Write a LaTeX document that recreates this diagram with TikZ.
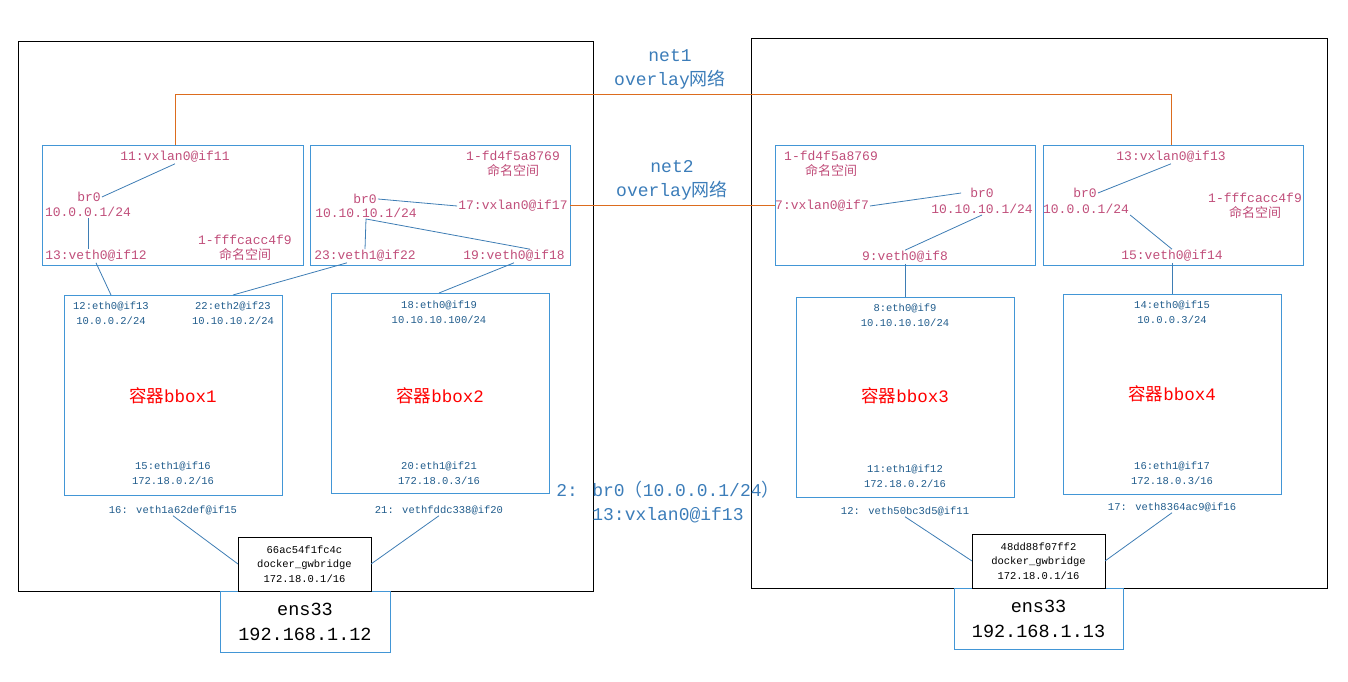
\documentclass[tikz,border=0pt]{standalone}
\usepackage{fontspec}
\setmainfont{Liberation Mono}
\newfontfamily\cjk{Noto Sans CJK SC}
\usetikzlibrary{calc}

\definecolor{nspink}{RGB}{192,78,122}
\definecolor{ifblue}{RGB}{32,92,140}
\definecolor{boxblue}{RGB}{66,150,214}
\definecolor{linkblue}{RGB}{62,125,180}
\definecolor{netorange}{RGB}{220,108,30}
\definecolor{midblue}{RGB}{60,125,185}

\tikzset{
  host/.style={draw=black, line width=0.9pt, inner sep=0pt, outer sep=0pt},
  nsbox/.style={draw=boxblue, line width=0.8pt, inner sep=0pt, outer sep=0pt, minimum width=261, minimum height=120},
  ctbox/.style={draw=boxblue, line width=0.8pt, inner sep=0pt, outer sep=0pt, minimum width=218, minimum height=200},
  gwbox/.style={draw=black, fill=white, line width=0.9pt, inner sep=0pt, outer sep=0pt, align=center,
    minimum width=133, minimum height=54, font=\fontsize{10.5}{14.5}\selectfont},
  ensbox/.style={draw=boxblue, line width=0.8pt, inner sep=0pt, outer sep=0pt, align=center,
    minimum width=170, minimum height=61, font=\fontsize{18.5}{25}\selectfont},
  nstext/.style={text=nspink, inner sep=1pt, align=center, font=\fontsize{13}{15}\selectfont},
  iftext/.style={text=ifblue, inner sep=1pt, align=center, font=\fontsize{10.5}{15.5}\selectfont},
  cttitle/.style={text=red, inner sep=1pt, font=\fontsize{17.5}{20}\selectfont},
  midtext/.style={text=midblue, inner sep=1pt, align=center, font=\fontsize{18}{24}\selectfont},
  link/.style={draw=linkblue, line width=0.8pt},
  vxlink/.style={draw=netorange, line width=1pt},
}

\begin{document}
\begin{tikzpicture}[x=1pt,y=-1pt]
  \useasboundingbox (0,0) rectangle (1348,682);

  % --- Hosts ---
  \node[host, minimum width=575, minimum height=550] (h1) at (305.5,316) {};
  \node[host, minimum width=576, minimum height=550] (h2) at (1039,313) {};

  % --- Namespaces (Host 1) ---
  \node[nsbox] (ns1) at (172.5,205) {};
  \node[nstext] (vx1) at (175,157) {11:vxlan0@if11};
  \node[nstext] (br1) at (89,197) {br0};
  \node[nstext] (ip1) at (88,212) {10.0.0.1/24};
  \node[nstext] (ve1) at (96,256) {13:veth0@if12};
  \node[nstext] (nm1) at (245,248) {1-fffcacc4f9\\{\cjk 命名空间}};
  \draw[link] (br1.east) -- (vx1.south);
  \draw[link] (ip1.south) -- (ve1.north -| ip1.south);

  \node[nsbox, minimum width=260] (ns2) at (440,205) {};
  \node[nstext] (nm2) at (513,164) {1-fd4f5a8769\\{\cjk 命名空间}};
  \node[nstext] (br2) at (365,199) {br0};
  \node[nstext] (ip2) at (366,213) {10.10.10.1/24};
  \node[nstext] (vx2) at (513,206) {17:vxlan0@if17};
  \node[nstext] (ve2a) at (365,256) {23:veth1@if22};
  \node[nstext] (ve2b) at (514,256) {19:veth0@if18};
  \draw[link] (br2.east) -- (vx2.west);
  \draw[link] (ve2a.north) -- (ip2.south) -- ([xshift=16]ve2b.north);

  % --- Namespaces (Host 2) ---
  \node[nsbox, minimum width=260] (ns3) at (905,205) {};
  \node[nstext] (nm3) at (831,164) {1-fd4f5a8769\\{\cjk 命名空间}};
  \node[nstext] (vx3) at (822,206) {7:vxlan0@if7};
  \node[nstext] (br3) at (982,193) {br0};
  \node[nstext] (ip3) at (982,209) {10.10.10.1/24};
  \node[nstext] (ve3) at (905,257) {9:veth0@if8};
  \draw[link] (vx3.east) -- ([xshift=-8]br3.west);
  \draw[link] (ve3.north) -- (ip3.south);

  \node[nsbox, minimum width=260] (ns4) at (1173,205) {};
  \node[nstext] (vx4) at (1171,157) {13:vxlan0@if13};
  \node[nstext] (br4) at (1085,193) {br0};
  \node[nstext] (ip4) at (1086,209) {10.0.0.1/24};
  \node[nstext] (nm4) at (1255,206) {1-fffcacc4f9\\{\cjk 命名空间}};
  \node[nstext] (ve4) at (1172,256) {15:veth0@if14};
  \draw[link] (br4.east) -- (vx4.south);
  \draw[link] (ip4.south east) -- (ve4.north);

  % --- Overlay networks ---
  \draw[vxlink] (vx1 |- ns1.north) -- ++(0,-50) -| (vx4 |- ns4.north);
  \draw[vxlink] (ns2.east) -- (ns3.west);
  \node[midtext] (net1) at (670,69) {net1\\overlay{\cjk 网络}};
  \node[midtext] (net2) at (672,180) {net2\\overlay{\cjk 网络}};

  % --- Containers ---
  \node[ctbox] (bb1) at (173,395) {};
  \node[iftext] (e0a) at (111,313) {12:eth0@if13\\10.0.0.2/24};
  \node[iftext] (e2a) at (233,313) {22:eth2@if23\\10.10.10.2/24};
  \node[cttitle] (tA) at (173,396) {{\cjk 容器}bbox1};
  \node[iftext] (e1a) at (173,473) {15:eth1@if16\\172.18.0.2/16};

  \node[ctbox] (bb2) at (440,393) {};
  \node[iftext] (e0b) at (439,312) {18:eth0@if19\\10.10.10.100/24};
  \node[cttitle] (tB) at (440,396) {{\cjk 容器}bbox2};
  \node[iftext] (e1b) at (439,473) {20:eth1@if21\\172.18.0.3/16};

  \node[ctbox] (bb3) at (905,397) {};
  \node[iftext] (e0c) at (905,315) {8:eth0@if9\\10.10.10.10/24};
  \node[cttitle] (tC) at (905,396) {{\cjk 容器}bbox3};
  \node[iftext] (e1c) at (905,476) {11:eth1@if12\\172.18.0.2/16};

  \node[ctbox] (bb4) at (1172,394) {};
  \node[iftext] (e0d) at (1172,312) {14:eth0@if15\\10.0.0.3/24};
  \node[cttitle] (tD) at (1172,394) {{\cjk 容器}bbox4};
  \node[iftext] (e1d) at (1172,473) {16:eth1@if17\\172.18.0.3/16};

  % veth pairs into the containers
  \draw[link] (ve1.south) -- (e0a.north |- bb1.north);
  \draw[link] ([xshift=-18]ve2a.south) -- (e2a.north |- bb1.north);
  \draw[link] (ve2b.south) -- (e0b.north |- bb2.north);
  \draw[link] (ve3.south) -- (e0c.north |- bb3.north);
  \draw[link] (ve4.south) -- (e0d.north |- bb4.north);

  \node[midtext] (mid) at (668,502) {2: br0{\cjk （}10.0.0.1/24{\cjk ）}\\13:vxlan0@if13};

  % --- docker_gwbridge and ens33 ---
  \node[iftext] (vA) at (173,510) {16: veth1a62def@if15};
  \node[iftext] (vB) at (439,510) {21: vethfddc338@if20};
  \node[iftext] (vC) at (905,511) {12: veth50bc3d5@if11};
  \node[iftext] (vD) at (1172,507) {17: veth8364ac9@if16};

  \node[ensbox] (ens1) at (305,621.5) {ens33\\192.168.1.12};
  \node[ensbox, minimum width=169] (ens2) at (1038.5,618.5) {ens33\\192.168.1.13};
  \node[gwbox] (gw1) at (304.5,564) {66ac54f1fc4c\\docker\_gwbridge\\172.18.0.1/16};
  \node[gwbox] (gw2) at (1038.5,561) {48dd88f07ff2\\docker\_gwbridge\\172.18.0.1/16};

  \draw[link] (vA.south) -- (gw1.west);
  \draw[link] (vB.south) -- (gw1.east);
  \draw[link] (vC.south) -- (gw2.west);
  \draw[link] (vD.south) -- (gw2.east);

\end{tikzpicture}
\end{document}
